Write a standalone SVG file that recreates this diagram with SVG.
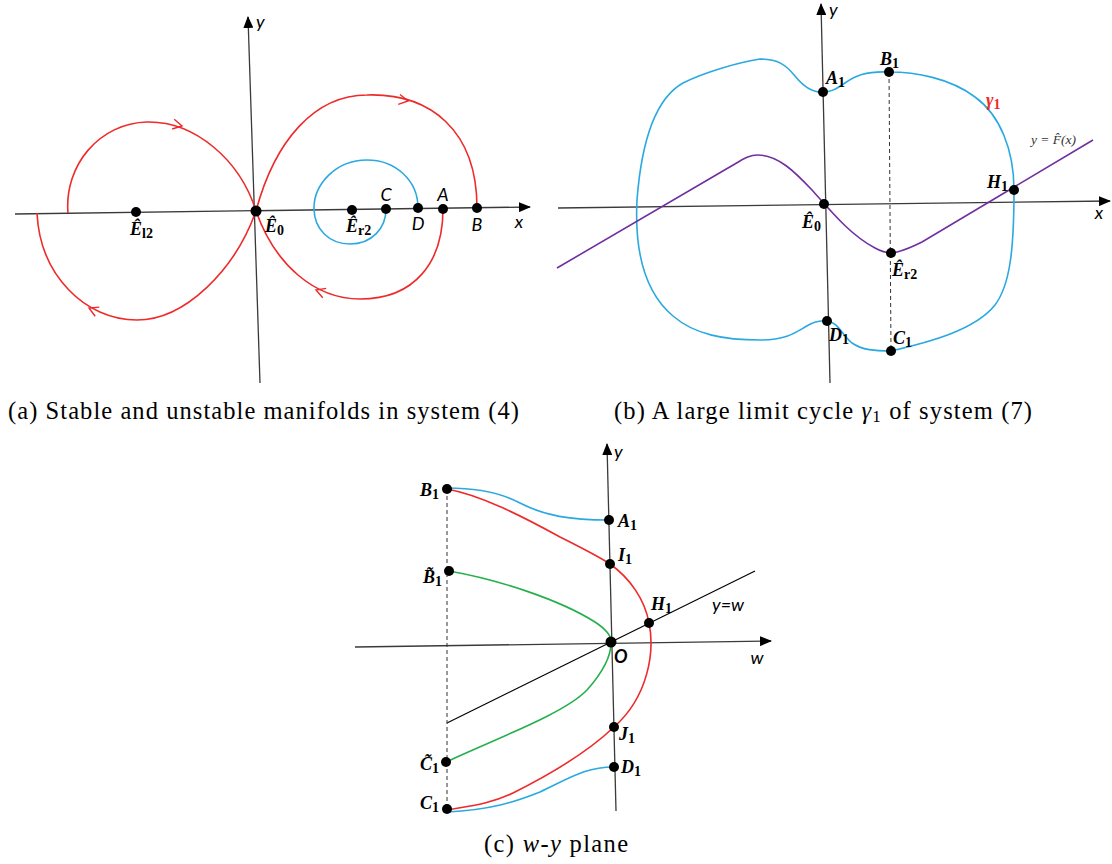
<svg xmlns="http://www.w3.org/2000/svg" width="1112" height="864" viewBox="0 0 1112 864">
<style>
.ax{stroke:#3a3a3a;stroke-width:1.3;fill:none}
.red{stroke:#ee2a2a;stroke-width:1.6;fill:none}
.blue{stroke:#2aa9e0;stroke-width:1.6;fill:none}
.pur{stroke:#7030a0;stroke-width:1.6;fill:none}
.grn{stroke:#25b04c;stroke-width:1.6;fill:none}
.dash{stroke:#333;stroke-width:1;stroke-dasharray:4 3;fill:none}
.chev{stroke:#ee2a2a;stroke-width:1.4;fill:none}
.pt{fill:#000}
.lab{font-family:"Liberation Serif",serif;font-weight:bold;font-style:italic;font-size:18px;fill:#000}
.sub{font-size:14px;font-style:normal}
.sans{font-family:Lato,"Liberation Sans",sans-serif;font-style:italic;font-size:18px;fill:#000}
.cap{font-family:"Liberation Serif",serif;font-size:24.5px;fill:#000}
</style>
<defs>
<marker id="arr" viewBox="0 0 12 10" refX="11" refY="5" markerWidth="12" markerHeight="10" markerUnits="userSpaceOnUse" orient="auto">
<path d="M0,0 L12,5 L0,10 Z" fill="#000"/>
</marker>
<path id="chevron" d="M-9,-5 L0,0 L-9,5"/>
</defs>

<g id="connectors">
<!-- Panel (a) axes -->
<line class="ax" x1="15" y1="214" x2="530" y2="207" marker-end="url(#arr)"/>
<line class="ax" x1="260" y1="383" x2="248" y2="17" marker-end="url(#arr)"/>
<!-- Panel (a) curves -->
<path class="red" d="M68,213 C64,165 100,123 147,122 C195,121 240,160 256,211"/>
<path class="red" d="M37,213 C40,275 85,320 137,320 C185,320 235,270 256,211"/>
<path class="red" d="M256,211 C275,140 315,95 367,95 C430,93 477,130 477,208"/>
<path class="red" d="M256,211 C275,265 315,299 360,299 C415,299 443,262 443,209"/>
<path class="blue" d="M418,208 C418,180 395,160 367,160 C335,160 314,185 314,208 C314,230 330,244 350,244 C372,244 386,228 386,209"/>
<use href="#chevron" class="chev" transform="translate(182,126) rotate(12)"/>
<use href="#chevron" class="chev" transform="translate(89,308) rotate(204)"/>
<use href="#chevron" class="chev" transform="translate(408,101) rotate(10)"/>
<use href="#chevron" class="chev" transform="translate(316,290) rotate(200)"/>

<!-- Panel (b) axes -->
<line class="ax" x1="558" y1="208" x2="1110" y2="201" marker-end="url(#arr)"/>
<line class="ax" x1="830" y1="383" x2="821" y2="4" marker-end="url(#arr)"/>
<line class="dash" x1="889" y1="72" x2="891" y2="351"/>
<!-- Panel (b) curves -->
<path class="blue" d="M823,92 C812,93 803,86 795,76 C786,65 778,59 760,59 C740,62 705,72 683,83 C658,97 642,135 637,200 C634,260 648,295 673,316 C695,335 725,340 760,340 C785,340 795,333 805,327 C813,322 820,320 827,321 C838,322 842,335 852,343 C862,350 875,351 891,351 C930,342 975,330 995,305 C1010,285 1014,250 1014,190 C1014,150 1000,115 975,97 C950,78 915,72 889,72 C865,71 855,76 845,83 C835,90 830,92 823,92 Z"/>
<path class="pur" d="M557,268 L728,168 C742,160 748,155 758,155 C778,155 795,172 812,190 C830,210 850,235 875,248 C884,253 890,254 897,252 C905,250 912,247 922,242 L1093,140"/>

<!-- Panel (c) axes -->
<line class="ax" x1="355" y1="647" x2="771" y2="641" marker-end="url(#arr)"/>
<line class="ax" x1="616" y1="811" x2="607" y2="444" marker-end="url(#arr)"/>
<line x1="447" y1="723" x2="755" y2="571" stroke="#000" stroke-width="1.2"/>
<line class="dash" x1="447" y1="489" x2="447" y2="809"/>
<!-- Panel (c) curves -->
<path class="blue" d="M447,488 C480,488 505,495 520,503 C545,516 570,520 609,520"/>
<path class="red" d="M447,489 C480,495 520,515 560,537 C580,547 598,556 610,564 C630,578 645,600 649,623 C655,652 648,697 614,727 C592,748 555,772 513,793 C490,804 470,806 447,810"/>
<path class="grn" d="M449,571 C500,580 560,600 595,622 C607,630 612,637 611,643 C611,655 603,672 587,690 C565,713 500,737 446,762"/>
<path class="blue" d="M447,812 C490,810 515,802 540,792 C570,778 585,767 614,767"/>
</g>

<!-- Panel (a) nodes -->
<g id="a-axis-labels">
<text class="sans" x="256" y="28">y</text>
<text class="sans" x="519" y="228" text-anchor="middle">x</text>
</g>
<g id="a-El2"><circle class="pt" cx="136" cy="212" r="5"/><text class="lab" x="130" y="235">Ê<tspan class="sub" dy="3">l2</tspan></text></g>
<g id="a-E0"><circle class="pt" cx="256" cy="211" r="5.5"/><text class="lab" x="265" y="232">Ê<tspan class="sub" dy="3">0</tspan></text></g>
<g id="a-Er2"><circle class="pt" cx="352" cy="210" r="5"/><text class="lab" x="346" y="232">Ê<tspan class="sub" dy="3">r2</tspan></text></g>
<g id="a-C"><circle class="pt" cx="386" cy="209" r="5"/><text class="sans" x="386" y="201" text-anchor="middle">C</text></g>
<g id="a-D"><circle class="pt" cx="418" cy="208" r="5"/><text class="sans" x="418" y="230" text-anchor="middle">D</text></g>
<g id="a-A"><circle class="pt" cx="443" cy="209" r="5"/><text class="sans" x="443" y="201" text-anchor="middle">A</text></g>
<g id="a-B"><circle class="pt" cx="477" cy="208" r="5"/><text class="sans" x="477" y="231" text-anchor="middle">B</text></g>

<!-- Panel (b) nodes -->
<g id="b-axis-labels">
<text class="sans" x="829" y="16">y</text>
<text class="sans" x="1099" y="219" text-anchor="middle">x</text>
<text x="1031" y="144" font-family="'Liberation Serif',serif" font-style="italic" font-size="13.5" fill="#333">y = F̂(x)</text>
<text class="lab" x="986" y="106" style="fill:#ee2a2a">γ<tspan class="sub" dy="3">1</tspan></text>
</g>
<g id="b-A1"><circle class="pt" cx="823" cy="92" r="5"/><text class="lab" x="826" y="84">A<tspan class="sub" dy="3">1</tspan></text></g>
<g id="b-B1"><circle class="pt" cx="889" cy="72" r="5"/><text class="lab" x="880" y="65">B<tspan class="sub" dy="3">1</tspan></text></g>
<g id="b-E0"><circle class="pt" cx="824" cy="204" r="5"/><text class="lab" x="802" y="228">Ê<tspan class="sub" dy="3">0</tspan></text></g>
<g id="b-H1"><circle class="pt" cx="1014" cy="190" r="5"/><text class="lab" x="987" y="188">H<tspan class="sub" dy="3">1</tspan></text></g>
<g id="b-Er2"><circle class="pt" cx="891" cy="253" r="5"/><text class="lab" x="892" y="276">Ê<tspan class="sub" dy="3">r2</tspan></text></g>
<g id="b-D1"><circle class="pt" cx="827" cy="321" r="5"/><text class="lab" x="829" y="341">D<tspan class="sub" dy="3">1</tspan></text></g>
<g id="b-C1"><circle class="pt" cx="891" cy="351" r="5"/><text class="lab" x="893" y="344">C<tspan class="sub" dy="3">1</tspan></text></g>

<!-- Panel (c) nodes -->
<g id="c-axis-labels">
<text class="sans" x="614" y="458">y</text>
<text class="sans" x="757" y="664" text-anchor="middle">w</text>
<text class="sans" x="712" y="611">y=w</text>
</g>
<g id="c-B1"><circle class="pt" cx="447" cy="489" r="5"/><text class="lab" x="420" y="496">B<tspan class="sub" dy="3">1</tspan></text></g>
<g id="c-A1"><circle class="pt" cx="609" cy="520" r="5"/><text class="lab" x="618" y="527">A<tspan class="sub" dy="3">1</tspan></text></g>
<g id="c-I1"><circle class="pt" cx="610" cy="564" r="5"/><text class="lab" x="618" y="561">I<tspan class="sub" dy="3">1</tspan></text></g>
<g id="c-Bt1"><circle class="pt" cx="449" cy="571" r="5"/><text class="lab" x="423" y="583">B̃<tspan class="sub" dy="3">1</tspan></text></g>
<g id="c-H1"><circle class="pt" cx="649" cy="623" r="5"/><text class="lab" x="651" y="610">H<tspan class="sub" dy="3">1</tspan></text></g>
<g id="c-O"><circle class="pt" cx="611" cy="642" r="5.5"/><text class="sans" x="614" y="663" font-weight="bold">O</text></g>
<g id="c-J1"><circle class="pt" cx="614" cy="727" r="5"/><text class="lab" x="619" y="740">J<tspan class="sub" dy="3">1</tspan></text></g>
<g id="c-Ct1"><circle class="pt" cx="446" cy="762" r="5"/><text class="lab" x="420" y="770">C̃<tspan class="sub" dy="3">1</tspan></text></g>
<g id="c-D1"><circle class="pt" cx="614" cy="767" r="5"/><text class="lab" x="621" y="773">D<tspan class="sub" dy="3">1</tspan></text></g>
<g id="c-C1"><circle class="pt" cx="447" cy="809" r="5"/><text class="lab" x="420" y="809">C<tspan class="sub" dy="3">1</tspan></text></g>

<!-- Captions -->
<g id="captions">
<text class="cap" x="8" y="419" textLength="511" lengthAdjust="spacing">(a) Stable and unstable manifolds in system (4)</text>
<text class="cap" x="614" y="419" textLength="418" lengthAdjust="spacing">(b) A large limit cycle <tspan font-style="italic">γ</tspan><tspan font-size="17" dy="3">1</tspan><tspan dy="-3"> of system (7)</tspan></text>
<text class="cap" x="484" y="852" textLength="144" lengthAdjust="spacing">(c) <tspan font-style="italic">w</tspan>-<tspan font-style="italic">y</tspan> plane</text>
</g>
</svg>
